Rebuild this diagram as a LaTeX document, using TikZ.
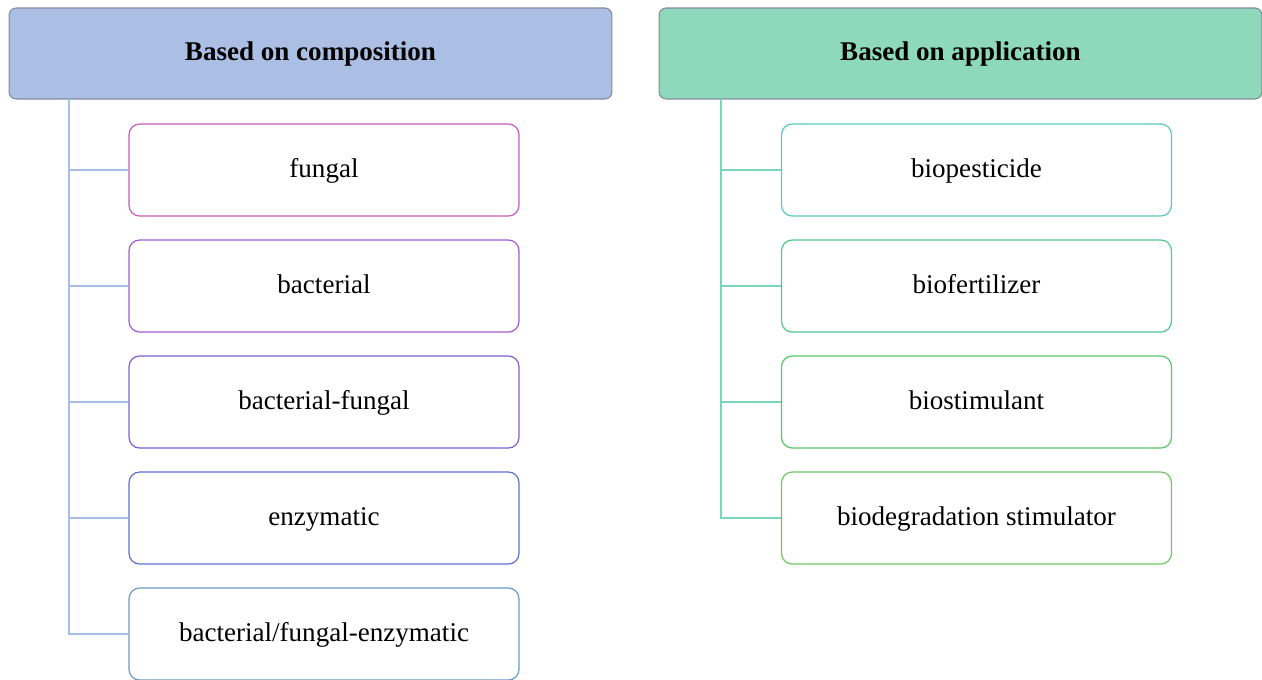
\documentclass[tikz,border=0pt]{standalone}
\usepackage{fontspec}
\setmainfont{Liberation Serif}
\usetikzlibrary{positioning}
\definecolor{hcomp}{RGB}{170,191,227}
\definecolor{happ}{RGB}{142,217,188}
\definecolor{hborder}{RGB}{130,140,160}
\definecolor{lcomp}{RGB}{165,190,230}
\definecolor{lapp}{RGB}{120,215,185}
\definecolor{c1}{RGB}{198,91,192}
\definecolor{c2}{RGB}{165,91,208}
\definecolor{c3}{RGB}{128,96,208}
\definecolor{c4}{RGB}{96,112,204}
\definecolor{c5}{RGB}{106,154,200}
\definecolor{a1}{RGB}{92,200,192}
\definecolor{a2}{RGB}{80,200,144}
\definecolor{a3}{RGB}{88,200,104}
\definecolor{a4}{RGB}{112,200,96}
\tikzset{
    header/.style={rectangle, draw=hborder, line width=0.6pt, rounded corners=4pt, minimum width=12.06cm, minimum height=1.82cm, text height=8pt, text depth=0pt, font=\fontsize{15.4}{18}\selectfont\bfseries},
    item/.style={rectangle, draw, line width=0.7pt, fill=white, rounded corners=6pt, minimum width=7.8cm, minimum height=1.84cm, text height=8pt, text depth=0pt, font=\fontsize{15.4}{18}\selectfont},
    branch/.style={line width=1pt}
}

\begin{document}
\begin{tikzpicture}[x=0.02cm, y=-0.02cm]
    \useasboundingbox (0,0) rectangle (1262,680);

    % Headers
    \node[header, fill=hcomp] (COMP) at (310.5, 53.5) {Based on composition};
    \node[header, fill=happ] (APP) at (960.5, 53.5) {Based on application};

    % Composition items
    \node[item, draw=c1] (F) at (324, 170) {fungal};
    \node[item, draw=c2] (B) at (324, 286) {bacterial};
    \node[item, draw=c3] (BF) at (324, 402) {bacterial-fungal};
    \node[item, draw=c4] (E) at (324, 518) {enzymatic};
    \node[item, draw=c5] (BFE) at (324, 634) {bacterial/fungal-enzymatic};

    % Application items
    \node[item, draw=a1] (PEST) at (976.5, 170) {biopesticide};
    \node[item, draw=a2] (FERT) at (976.5, 286) {biofertilizer};
    \node[item, draw=a3] (STIM) at (976.5, 402) {biostimulant};
    \node[item, draw=a4] (DEGR) at (976.5, 518) {biodegradation stimulator};

    % Tree lines
    \coordinate (CT) at (69, 99);
    \coordinate (AT) at (721, 99);
    \draw[branch, lcomp] (CT) |- (BFE.west);
    \foreach \n in {F, B, BF, E}
        \draw[branch, lcomp] (CT |- \n.west) -- (\n.west);
    \draw[branch, lapp] (AT) |- (DEGR.west);
    \foreach \n in {PEST, FERT, STIM}
        \draw[branch, lapp] (AT |- \n.west) -- (\n.west);
\end{tikzpicture}
\end{document}
